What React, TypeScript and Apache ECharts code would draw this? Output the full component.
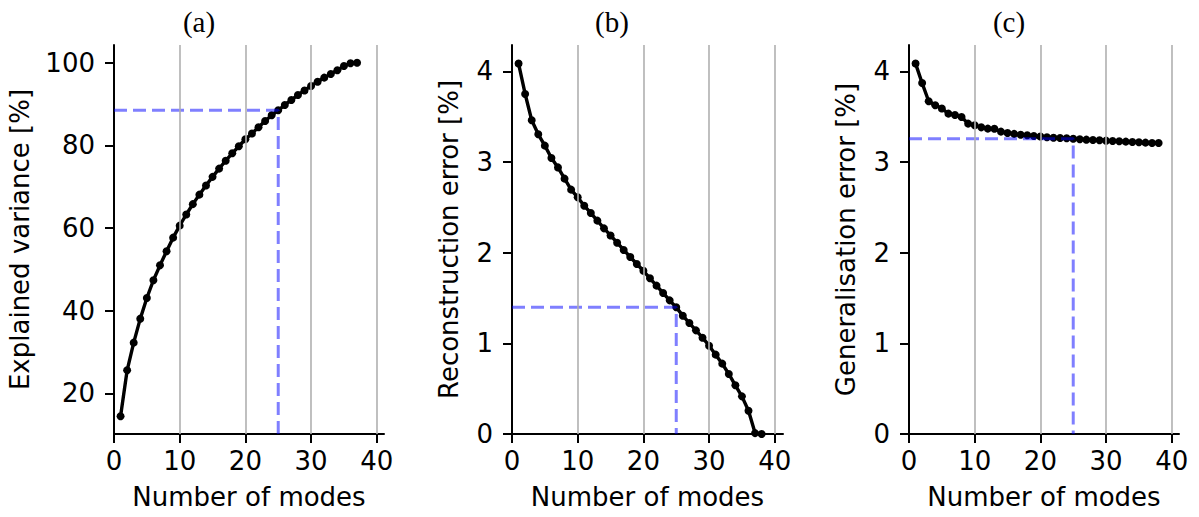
import React, { useEffect, useRef } from "react";
import * as echarts from "echarts";

const modesA = [1,2,3,4,5,6,7,8,9,10,11,12,13,14,15,16,17,18,19,20,21,22,23,24,25,26,27,28,29,30,31,32,33,34,35,36,37];
const modesBC = [1,2,3,4,5,6,7,8,9,10,11,12,13,14,15,16,17,18,19,20,21,22,23,24,25,26,27,28,29,30,31,32,33,34,35,36,37,38];

const explainedVariance = [14.5,25.6,32.3,38.1,43.1,47.4,51.0,54.4,57.7,60.6,63.3,65.8,68.1,70.3,72.4,74.4,76.3,78.1,79.8,81.5,82.9,84.4,85.9,87.3,88.5,89.8,91.0,92.2,93.3,94.4,95.4,96.4,97.3,98.2,99.2,99.9,100.0];
const reconstructionError = [4.085,3.75,3.46,3.305,3.18,3.044,2.94,2.816,2.695,2.61,2.518,2.437,2.353,2.268,2.19,2.11,2.03,1.952,1.875,1.80,1.717,1.636,1.555,1.474,1.397,1.305,1.224,1.143,1.062,0.974,0.875,0.776,0.662,0.537,0.415,0.257,0.01,0.0];
const generalisationError = [4.085,3.87,3.67,3.625,3.59,3.533,3.518,3.496,3.423,3.404,3.382,3.368,3.366,3.335,3.32,3.31,3.30,3.294,3.287,3.28,3.272,3.268,3.265,3.261,3.257,3.25,3.246,3.243,3.239,3.235,3.232,3.228,3.224,3.22,3.217,3.213,3.21,3.21];

const selectedMode = 25;
const xTicks = [0, 10, 20, 30, 40];
const gridXs = [10, 20, 30, 40];
const yTicksA = [20, 40, 60, 80, 100];
const yTicksBC = [0, 1, 2, 3, 4];
const panelTitles = ["(a)", "(b)", "(c)"];
const yNames = ["Explained variance [%]", "Reconstruction error [%]", "Generalisation error [%]"];
const xName = "Number of modes";

const FONT = "DejaVu Sans";

export default function App() {
  const ref = useRef<HTMLDivElement>(null);
  useEffect(() => {
    if (!ref.current) return;
    const chart = echarts.init(ref.current, undefined, { renderer: "svg" });
    const panels = [
      { modes: modesA, values: explainedVariance, yMin: 10.2, yMax: 104.3, yTicks: yTicksA, xMax: 41.1, left: 114, width: 270, nameGap: 81, titleX: 199 },
      { modes: modesBC, values: reconstructionError, yMin: 0, yMax: 4.29, yTicks: yTicksBC, xMax: 41.25, left: 512, width: 271, nameGap: 50, titleX: 612 },
      { modes: modesBC, values: generalisationError, yMin: 0, yMax: 4.29, yTicks: yTicksBC, xMax: 41.1, left: 909, width: 270, nameGap: 50, titleX: 1009 },
    ];
    const axisLine = { show: true, onZero: false, lineStyle: { color: "#000", width: 2 } };
    const axisTick = (vals: number[]) => ({ show: true, inside: false, length: 9, lineStyle: { color: "#000", width: 2 }, customValues: vals });
    const labelStyle = { fontSize: 26, color: "#000", fontFamily: FONT };

    const grids = panels.map((p) => ({ left: p.left, top: 45, width: p.width, height: 389 }));
    const xAxes = panels.map((p, i) => ({
      type: "value", gridIndex: i, min: 0, max: p.xMax,
      axisLine, axisTick: axisTick(xTicks),
      axisLabel: { ...labelStyle, customValues: xTicks, margin: 14 },
      splitLine: { show: false },
      name: xName, nameLocation: "middle", nameGap: 50,
      nameTextStyle: { ...labelStyle },
    }));
    const yAxes = panels.map((p, i) => ({
      type: "value", gridIndex: i, min: p.yMin, max: p.yMax,
      axisLine, axisTick: axisTick(p.yTicks),
      axisLabel: { ...labelStyle, customValues: p.yTicks, margin: 19 },
      splitLine: { show: false },
      name: yNames[i], nameLocation: "middle", nameGap: p.nameGap,
      nameTextStyle: { ...labelStyle },
    }));
    const series: any[] = [];
    panels.forEach((p, i) => {
      series.push({
        type: "line", xAxisIndex: i, yAxisIndex: i, data: [], z: 1, silent: true,
        markLine: {
          silent: true, symbol: "none", label: { show: false },
          lineStyle: { color: "#b0b0b0", width: 1.6, type: "solid" },
          data: gridXs.map((x) => ({ xAxis: x })),
        },
      });
      series.push({
        type: "line", xAxisIndex: i, yAxisIndex: i, z: 3,
        data: p.modes.map((m, k) => [m, p.values[k]]),
        symbol: "circle", symbolSize: 8, showSymbol: true,
        lineStyle: { color: "#000", width: 3.4 },
        itemStyle: { color: "#000" },
      });
      const v = p.values[p.modes.indexOf(selectedMode)];
      series.push({
        type: "line", xAxisIndex: i, yAxisIndex: i, z: 4, symbol: "none",
        data: [[0, v], [selectedMode, v], [selectedMode, p.yMin]],
        lineStyle: { color: "rgba(0,0,255,0.5)", width: 3, type: [13, 6] },
      });
    });
    chart.setOption({
      animation: false,
      backgroundColor: "#fff",
      grid: grids,
      xAxis: xAxes,
      yAxis: yAxes,
      series,
      graphic: panels.map((p, i) => ({
        type: "text", x: p.titleX, y: 7,
        style: { text: panelTitles[i], fontSize: 29, fontFamily: "Liberation Serif", fill: "#000", textAlign: "center", textVerticalAlign: "top" },
      })),
    });
    return () => chart.dispose();
  }, []);
  return <div ref={ref} style={{ position: "absolute", left: 0, top: 0, width: 1199, height: 517 }} />;
}
